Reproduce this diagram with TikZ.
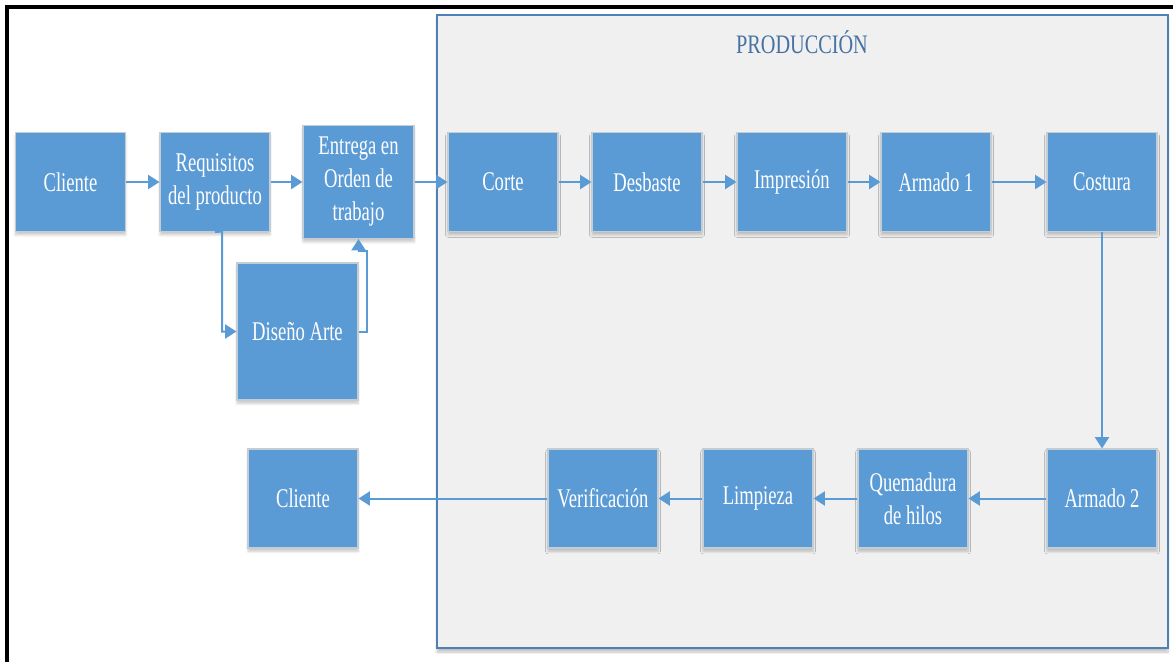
\documentclass[tikz,border=0pt]{standalone}
\usepackage{fontspec}
\setmainfont{Liberation Serif}
\newfontfamily\boxfont[FakeStretch=0.69]{Liberation Serif}
\newfontfamily\titlefont[FakeStretch=0.76]{Liberation Serif}
\usetikzlibrary{arrows.meta,shadows.blur}

\definecolor{boxblue}{HTML}{5B9BD5}
\definecolor{boxedge}{HTML}{C4CCD4}
\definecolor{panelfill}{HTML}{F0F0F0}
\definecolor{paneledge}{HTML}{4F7FB4}
\definecolor{titleblue}{HTML}{4672A3}

\tikzset{
  procbox/.style={
    draw=boxedge, line width=0.8pt, fill=boxblue,
    text=white, inner sep=0pt, align=center,
    minimum width=82.5pt, minimum height=74.25pt,
    font=\boxfont\fontsize{20.25}{24.75}\selectfont,
    blur shadow={shadow xshift=0pt, shadow yshift=-2.5pt,
                 shadow opacity=22, shadow blur steps=6}
  },
  flow/.style={draw=boxblue, line width=1.5pt,
    -{Triangle[length=8.5pt,width=10.5pt]}},
}

\begin{document}
\begin{tikzpicture}[x=0.75pt,y=-0.75pt]
  \useasboundingbox (0,0) rectangle (1173,662);

  % outer frame (top and left edges)
  \draw[line width=2.6pt] (1173,7) -- (7,7) -- (7,662);

  % production panel
  \path[fill=panelfill, draw=paneledge, line width=1.1pt,
        blur shadow={shadow xshift=0pt, shadow yshift=-3pt,
                     shadow opacity=25, shadow blur steps=6}]
        (437,15) rectangle (1168,648);
  \node[anchor=base, text=titleblue,
        font=\titlefont\fontsize{20}{24}\selectfont] (title) at (802,53) {PRODUCCIÓN};

  % first row
  \node[procbox] (cli1) at (70.5,182) {Cliente};
  \node[procbox] (req)  at (215,182) {Requisitos\\del producto};
  \node[procbox, minimum width=83.25pt, minimum height=84.75pt] (ent) at (358.5,182) {Entrega en\\Orden de\\trabajo};
  \node[procbox] (corte) at (503,182) {Corte};
  \node[procbox] (desb)  at (647,182) {Desbaste};
  \node[procbox] (imp)   at (792,182) {Impresión};
  \node[procbox] (arm1)  at (936,182) {Armado 1};
  \node[procbox] (cost)  at (1102,182) {Costura};

  % design step
  \node[procbox, minimum width=90.75pt, minimum height=102.75pt] (dis) at (297.5,331.5) {Diseño Arte};

  % second row
  \node[procbox] (arm2)  at (1102,498.5) {Armado 2};
  \node[procbox] (quem)  at (913,498.5) {Quemadura\\de hilos};
  \node[procbox] (limp)  at (758,498.5) {Limpieza};
  \node[procbox] (verif) at (603,498.5) {Verificación};
  \node[procbox] (cli2)  at (303,498.5) {Cliente};

  % connectors
  \draw[flow] (cli1) -- (req);
  \draw[flow] (req) -- (ent);
  \draw[flow] (ent) -- (corte);
  \draw[flow] (corte) -- (desb);
  \draw[flow] (desb) -- (imp);
  \draw[flow] (imp) -- (arm1);
  \draw[flow] (arm1) -- (cost);
  \draw[flow] (cost) -- (arm2);
  \draw[flow] (arm2) -- (quem);
  \draw[flow] (quem) -- (limp);
  \draw[flow] (limp) -- (verif);
  \draw[flow] (verif) -- (cli2);

  \coordinate (reqdrop) at (222,231.5);
  \draw[flow] (req.south) -- (reqdrop) |- (dis.west);
  \coordinate (riser) at (367,251);
  \draw[flow] (dis.east) -| (riser) -| (ent.south);
\end{tikzpicture}
\end{document}
